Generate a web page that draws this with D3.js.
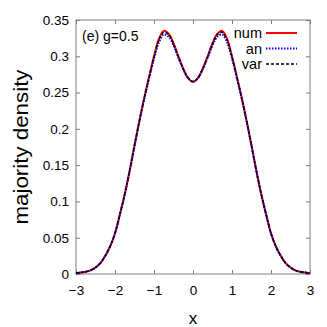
<!DOCTYPE html>
<html>
<head>
<meta charset="utf-8">
<script src="https://cdn.jsdelivr.net/npm/d3@7"></script>
<style>
  body { margin: 0; background: #fff; }
  text { font-family: "Liberation Sans", Arial, sans-serif; }
</style>
</head>
<body>
<script>
const WIDTH = 327
const HEIGHT = 327

// x grid and the three curves
const xs = [-3, -2.875, -2.75, -2.625, -2.5, -2.375, -2.25, -2.125, -2, -1.875, -1.75, -1.625,
  -1.5, -1.375, -1.25, -1.125, -1, -0.875, -0.75, -0.625, -0.5, -0.375, -0.25, -0.125, 0,
  0.125, 0.25, 0.375, 0.5, 0.625, 0.75, 0.875, 1, 1.125, 1.25, 1.375, 1.5,
  1.625, 1.75, 1.875, 2, 2.125, 2.25, 2.375, 2.5, 2.625, 2.75, 2.875, 3]
const numVals = [0.001, 0.002, 0.003, 0.005, 0.009, 0.015, 0.025, 0.038, 0.056, 0.082, 0.110, 0.142,
  0.177, 0.211, 0.243, 0.272, 0.300, 0.324, 0.335, 0.331, 0.318, 0.300, 0.283, 0.270, 0.265,
  0.270, 0.283, 0.300, 0.318, 0.331, 0.335, 0.324, 0.300, 0.272, 0.243, 0.211, 0.177,
  0.142, 0.110, 0.082, 0.056, 0.038, 0.025, 0.015, 0.009, 0.005, 0.003, 0.002, 0.001]
const anVals = [0.001, 0.002, 0.003, 0.005, 0.009, 0.015, 0.025, 0.038, 0.056, 0.082, 0.110, 0.142,
  0.177, 0.210, 0.241, 0.270, 0.297, 0.319, 0.330, 0.327, 0.315, 0.298, 0.282, 0.270, 0.265,
  0.270, 0.282, 0.298, 0.315, 0.327, 0.330, 0.319, 0.297, 0.270, 0.241, 0.210, 0.177,
  0.142, 0.110, 0.082, 0.056, 0.038, 0.025, 0.015, 0.009, 0.005, 0.003, 0.002, 0.001]
const varVals = [0.001, 0.002, 0.003, 0.005, 0.009, 0.015, 0.025, 0.038, 0.056, 0.082, 0.110, 0.142,
  0.177, 0.211, 0.242, 0.271, 0.299, 0.322, 0.333, 0.330, 0.317, 0.299, 0.283, 0.270, 0.265,
  0.270, 0.283, 0.299, 0.317, 0.330, 0.333, 0.322, 0.299, 0.271, 0.242, 0.211, 0.177,
  0.142, 0.110, 0.082, 0.056, 0.038, 0.025, 0.015, 0.009, 0.005, 0.003, 0.002, 0.001]

const xTicks = [-3, -2, -1, 0, 1, 2, 3]
const yTicks = [0, 0.05, 0.1, 0.15, 0.2, 0.25, 0.3, 0.35]
const legendNames = ['num', 'an', 'var']

const margin = { left: 76, right: 17, top: 20, bottom: 53 }

const svg = d3.select('body').append('svg')
  .attr('width', WIDTH)
  .attr('height', HEIGHT)

const x = d3.scaleLinear().domain([-3, 3]).range([margin.left, WIDTH - margin.right])
const y = d3.scaleLinear().domain([0, 0.35]).range([HEIGHT - margin.bottom, margin.top])

const axisColor = '#7f7f7f'

// ticks (inward, on all four sides)
const gx = svg.append('g')
  .attr('transform', `translate(0,${y(0)})`)
  .call(d3.axisBottom(x).tickValues(xTicks).tickSize(-4).tickPadding(11).tickFormat(d3.format('d')))
const gxTop = svg.append('g')
  .attr('transform', `translate(0,${y(0.35)})`)
  .call(d3.axisTop(x).tickValues(xTicks).tickSize(-4).tickFormat(''))
const gy = svg.append('g')
  .attr('transform', `translate(${x(-3)},0)`)
  .call(d3.axisLeft(y).tickValues(yTicks).tickSize(-4).tickPadding(7).tickFormat(d => d === 0 ? '0' : String(d)))
const gyRight = svg.append('g')
  .attr('transform', `translate(${x(3)},0)`)
  .call(d3.axisRight(y).tickValues(yTicks).tickSize(-4).tickFormat(''))

for (const g of [gx, gxTop, gy, gyRight]) {
  g.select('.domain').remove()
  g.selectAll('line').attr('stroke', axisColor)
  g.selectAll('text').attr('fill', '#000').style('font-size', '13.5px')
}

// frame
svg.append('rect')
  .attr('x', x(-3)).attr('y', y(0.35))
  .attr('width', x(3) - x(-3)).attr('height', y(0) - y(0.35))
  .attr('fill', 'none')
  .attr('stroke', axisColor)
  .attr('stroke-width', 1)

const line = d3.line()
  .x((d, i) => x(xs[i]))
  .y(d => y(d))
  .curve(d3.curveCatmullRom.alpha(0.5))

const series = [
  { vals: numVals, color: '#ff0000', width: 2, dash: null },
  { vals: anVals, color: '#0000ff', width: 2, dash: '1.5,1.5' },
  { vals: varVals, color: '#000000', width: 1.5, dash: '3,2' }
]

series.forEach(s => {
  svg.append('path')
    .attr('d', line(s.vals))
    .attr('fill', 'none')
    .attr('stroke', s.color)
    .attr('stroke-width', s.width)
    .attr('stroke-dasharray', s.dash)
})

// legend
const legend = svg.append('g')
series.forEach((s, i) => {
  const ly = 33 + i * 15.5
  legend.append('text')
    .attr('x', 262).attr('y', ly + 5)
    .attr('text-anchor', 'end')
    .style('font-size', '14.5px')
    .text(legendNames[i])
  legend.append('line')
    .attr('x1', 266).attr('x2', 297)
    .attr('y1', ly).attr('y2', ly)
    .attr('stroke', s.color)
    .attr('stroke-width', s.width)
    .attr('stroke-dasharray', s.dash)
})

// panel label
svg.append('text')
  .attr('x', 82).attr('y', 41)
  .style('font-size', '14px')
  .text('(e) g=0.5')

// axis labels
svg.append('text')
  .attr('x', x(0)).attr('y', 324)
  .attr('text-anchor', 'middle')
  .style('font-size', '17px')
  .text('x')

svg.append('text')
  .attr('transform', `translate(28,${(y(0) + y(0.35)) / 2}) rotate(-90)`)
  .attr('text-anchor', 'middle')
  .style('font-size', '20px')
  .attr('textLength', 155)
  .attr('lengthAdjust', 'spacingAndGlyphs')
  .text('majority density')
</script>
</body>
</html>
